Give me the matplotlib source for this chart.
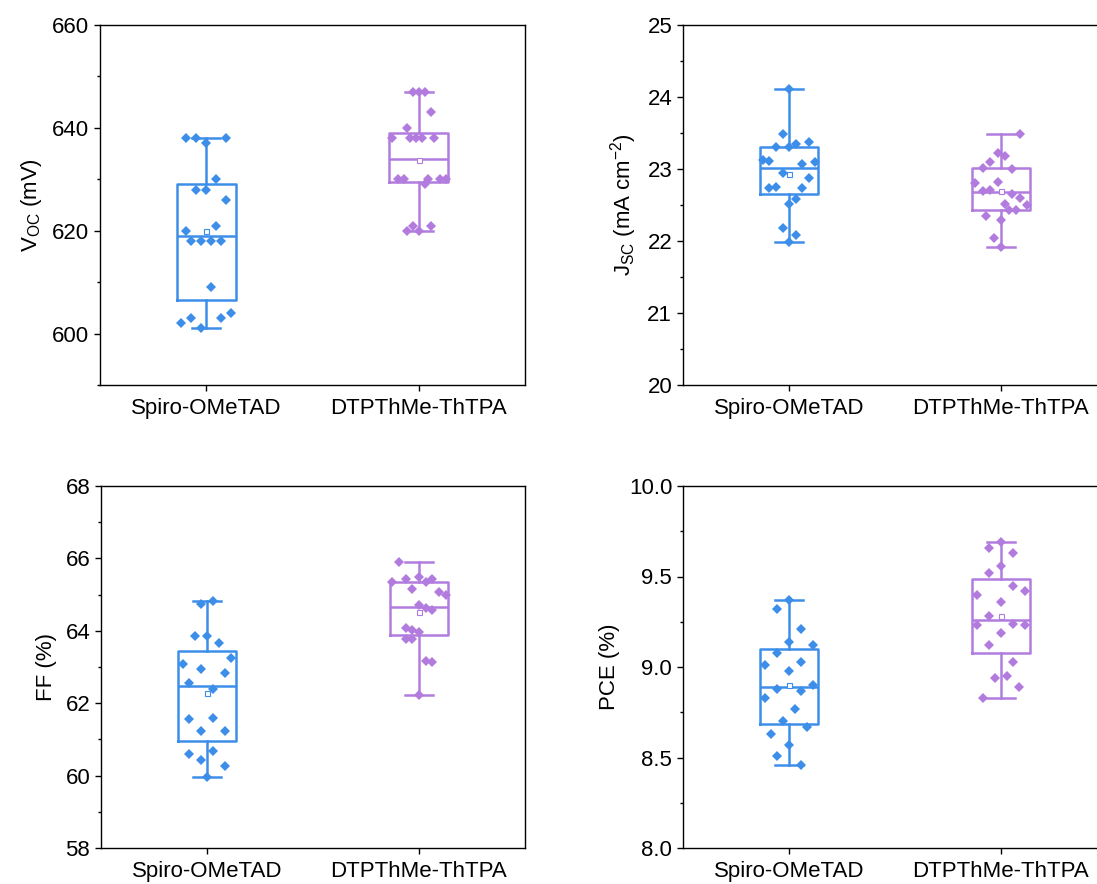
import matplotlib
matplotlib.use('Agg')
import matplotlib.pyplot as plt
import numpy as np
from matplotlib.ticker import MultipleLocator, FormatStrFormatter

plt.rcParams['font.family'] = ['Liberation Sans', 'DejaVu Sans']
plt.rcParams['mathtext.default'] = 'regular'

groups = ['Spiro-OMeTAD', 'DTPThMe-ThTPA']

# Voc (mV)
voc_spiro = [638, 638, 638, 637, 630, 628, 628, 626, 621, 620,
             618, 618, 618, 618, 609, 604, 603, 603, 602, 601]
voc_spiro_dx = [-0.095, -0.047, 0.095, 0, 0.047, -0.047, 0, 0.095, 0.047, -0.095,
                -0.071, -0.024, 0.024, 0.071, 0.024, 0.118, -0.071, 0.071, -0.118, -0.024]
voc_dtp = [647, 647, 647, 643, 640, 638, 638, 638, 638, 638,
           630, 630, 630, 630, 630, 629, 621, 621, 620, 620]
voc_dtp_dx = [-0.027, 0, 0.028, 0.057, -0.055, -0.126, -0.041, -0.013, 0.016, 0.073,
              -0.098, -0.069, 0.044, 0.101, 0.129, 0.028, -0.027, 0.057, -0.055, 0]

# Jsc (mA cm-2)
jsc_spiro = [24.11, 23.48, 23.35, 23.37, 23.31, 23.31, 23.12, 23.11, 23.07, 23.10,
             22.95, 22.88, 22.75, 22.73, 22.73, 22.58, 22.51, 22.18, 22.08, 21.99]
jsc_spiro_dx = [0, -0.030, 0.031, 0.094, -0.061, 0, -0.124, -0.093, 0.063, 0.124,
                -0.030, 0.094, -0.061, -0.093, 0.063, 0.031, 0, -0.030, 0.031, 0]
jsc_dtp = [23.48, 23.22, 23.18, 23.10, 23.02, 23.00, 22.81, 22.82, 22.70, 22.71,
           22.65, 22.60, 22.51, 22.50, 22.43, 22.43, 22.35, 22.29, 22.04, 21.91]
jsc_dtp_dx = [0.090, -0.016, 0.019, -0.052, -0.086, 0.053, -0.121, -0.016, -0.086, -0.052,
              0.053, 0.090, 0.019, 0.124, 0.036, 0.071, -0.069, 0, -0.033, 0]

# FF (%)
ff_spiro = [64.82, 64.73, 63.85, 63.85, 63.65, 63.24, 63.09, 62.94, 62.83, 62.57,
            62.39, 61.57, 61.59, 61.24, 61.22, 60.67, 60.60, 60.42, 60.26, 59.95]
ff_spiro_dx = [0.027, -0.030, -0.057, 0, 0.055, 0.112, -0.112, -0.028, 0.084, -0.085,
               0.027, -0.085, 0.027, -0.028, 0.084, 0.027, -0.085, -0.028, 0.084, 0]
ff_dtp = [65.89, 65.48, 65.44, 65.44, 65.36, 65.34, 65.15, 65.08, 64.99, 64.71,
          64.62, 64.57, 64.07, 64.02, 63.98, 63.78, 63.76, 63.16, 63.13, 62.23]
ff_dtp_dx = [-0.093, 0, -0.063, 0.062, 0.032, -0.126, -0.032, 0.093, 0.125, 0,
             0.032, 0.062, -0.063, -0.032, 0, -0.063, -0.032, 0.032, 0.062, 0]

# PCE (%)
pce_spiro = [9.37, 9.32, 9.21, 9.14, 9.12, 9.08, 9.03, 9.01, 8.98, 8.90,
             8.88, 8.87, 8.83, 8.77, 8.70, 8.67, 8.63, 8.57, 8.51, 8.46]
pce_spiro_dx = [0, -0.057, 0.057, 0, 0.113, -0.057, 0.057, -0.112, 0, 0.113,
                -0.057, 0.057, -0.112, 0.028, -0.028, 0.085, -0.085, 0, -0.057, 0.057]
pce_dtp = [9.69, 9.66, 9.63, 9.56, 9.52, 9.45, 9.42, 9.40, 9.36, 9.28,
           9.24, 9.23, 9.23, 9.19, 9.12, 9.03, 8.95, 8.94, 8.89, 8.83]
pce_dtp_dx = [0, -0.055, 0.057, 0, -0.055, 0.057, 0.113, -0.112, 0, -0.055,
              0.057, -0.112, 0.113, 0, -0.055, 0.057, 0.030, -0.027, 0.085, -0.083]

colors = ['#3d8ee9', '#b27cdf']

W, H = 1097, 884
fig = plt.figure(figsize=(W / 100, H / 100), dpi=100)


def px_axes(left, top, right, bottom):
    return fig.add_axes([left / W, 1 - bottom / H, (right - left) / W, (bottom - top) / H])


def box_stats(vals):
    v = np.asarray(vals, dtype=float)
    q1, med, q3 = np.percentile(v, [25, 50, 75], method='midpoint')
    return {'q1': q1, 'med': med, 'q3': q3, 'whislo': v.min(), 'whishi': v.max(),
            'mean': v.mean(), 'fliers': []}


def draw_panel(ax, data, offsets, ylabel, ylim, major, minor, fmt=None):
    for i, (vals, dx) in enumerate(zip(data, offsets)):
        pos = i + 1
        c = colors[i]
        st = box_stats(vals)
        lp = dict(color=c, linewidth=1.8)
        ax.bxp([st], positions=[pos], widths=0.276, capwidths=0.13,
               showfliers=False, boxprops=lp, whiskerprops=lp, capprops=lp,
               medianprops=lp, manage_ticks=False, zorder=2)
        ax.plot(pos + np.asarray(dx), vals, linestyle='none', marker='D',
                markersize=4.6, color=c, markeredgewidth=0, zorder=3)
        ax.plot([pos], [st['mean']], linestyle='none', marker='s', markersize=3.6,
                markerfacecolor='white', markeredgecolor=c, markeredgewidth=0.8, zorder=4)

    ax.set_xlim(0.5, 2.5)
    ax.set_ylim(*ylim)
    ax.set_xticks([1, 2])
    ax.set_xticklabels(groups)
    ax.yaxis.set_major_locator(MultipleLocator(major))
    ax.yaxis.set_minor_locator(MultipleLocator(minor))
    if fmt:
        ax.yaxis.set_major_formatter(FormatStrFormatter(fmt))
    ax.tick_params(axis='both', which='major', direction='out', length=4.3,
                   width=1.0, labelsize=16, pad=3.5)
    ax.tick_params(axis='y', which='minor', direction='out', length=2.3, width=1.0)
    ax.tick_params(axis='x', which='major', pad=5)
    ax.set_ylabel(ylabel, fontsize=16, labelpad=6)
    for sp in ax.spines.values():
        sp.set_linewidth(1.0)


ax1 = px_axes(100, 25, 525, 385)
draw_panel(ax1, [voc_spiro, voc_dtp], [voc_spiro_dx, voc_dtp_dx],
           'V$_{OC}$ (mV)', (590, 660), 20, 10)

ax2 = px_axes(683, 25, 1107, 385)
draw_panel(ax2, [jsc_spiro, jsc_dtp], [jsc_spiro_dx, jsc_dtp_dx],
           'J$_{SC}$ (mA cm$^{-2}$)', (20, 25), 1, 0.5)

ax3 = px_axes(101, 486, 525, 848)
draw_panel(ax3, [ff_spiro, ff_dtp], [ff_spiro_dx, ff_dtp_dx],
           'FF (%)', (58, 68), 2, 1)

ax4 = px_axes(683, 486, 1107, 848)
draw_panel(ax4, [pce_spiro, pce_dtp], [pce_spiro_dx, pce_dtp_dx],
           'PCE (%)', (8.0, 10.0), 0.5, 0.25, fmt='%.1f')

fig.savefig('out.png', dpi=100)
